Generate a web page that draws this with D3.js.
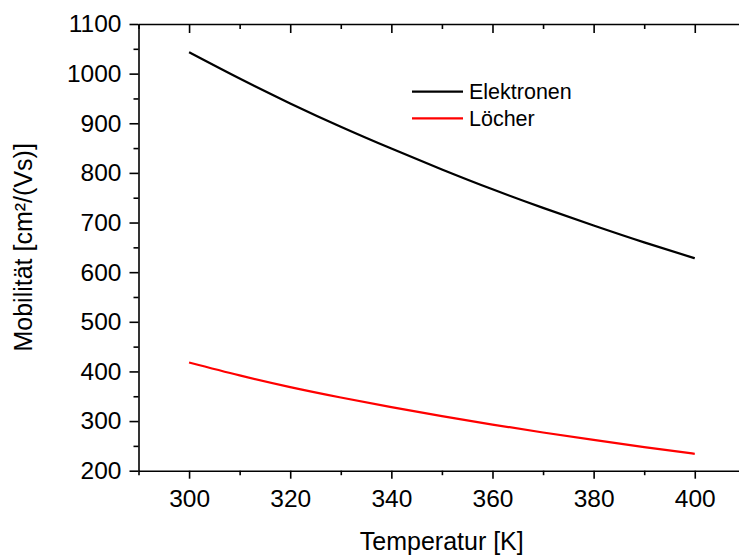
<!DOCTYPE html>
<html>
<head>
<meta charset="utf-8">
<script src="https://cdn.jsdelivr.net/npm/d3@7"></script>
<style>
  html, body { margin: 0; padding: 0; background: #fff; }
  svg { display: block; font-family: "Liberation Sans", Arial, sans-serif; }
</style>
</head>
<body>
<svg id="chart" width="739" height="556"></svg>
<script>
// ---- data ----
const temperatures = [300, 310, 320, 330, 340, 350, 360, 370, 380, 390, 400];
const electrons = [1043, 990, 940, 893, 849, 807, 767, 729.5, 694, 660, 628];
const holes = [418, 392, 368.5, 347.5, 328, 310, 293, 277, 262, 247.5, 234];
const seriesNames = ["Elektronen", "Löcher"];
const seriesColors = ["#000000", "#ff0000"];
const xMajorTicks = [300, 320, 340, 360, 380, 400];
const xMinorTicks = [290, 310, 330, 350, 370, 390, 410];
const yMajorTicks = [200, 300, 400, 500, 600, 700, 800, 900, 1000, 1100];
const yMinorTicks = [250, 350, 450, 550, 650, 750, 850, 950, 1050];
const xTitle = "Temperatur [K]";
const yTitle = "Mobilität [cm²/(Vs)]";

(function () {
// ---- layout ----
const svg = d3.select("#chart");
const mLeft = 138.5, mTop = 24, mBottom = 470.7;
const pxPerK = 5.057;
const x = d3.scaleLinear().domain([290, 410]).range([mLeft, mLeft + 120 * pxPerK]);
const y = d3.scaleLinear().domain([200, 1100]).range([mBottom, mTop]);

const fontSize = 24.5;

function styleAxis(g) {
  g.selectAll("path.domain").attr("stroke", "#000").attr("stroke-width", 1.6);
  g.selectAll(".tick line").attr("stroke", "#000").attr("stroke-width", 1.6);
  g.selectAll(".tick text").attr("fill", "#000").style("font-size", fontSize + "px")
    .style("font-family", '"Liberation Sans", Arial, sans-serif');
}

// bottom axis
const gx = svg.append("g").attr("transform", `translate(0,${mBottom})`)
  .call(d3.axisBottom(x).tickValues(xMajorTicks).tickSize(8).tickSizeOuter(0).tickPadding(10).tickFormat(d3.format("d")));
styleAxis(gx);
gx.selectAll(".tick text").attr("dy", "0").attr("y", 36);
svg.append("g").attr("transform", `translate(0,${mBottom})`)
  .call(d3.axisBottom(x).tickValues(xMinorTicks).tickSize(4.5).tickFormat(""))
  .call(g => g.select("path.domain").remove())
  .call(styleAxis);

// top axis (ticks inward)
const gt = svg.append("g").attr("transform", `translate(0,${mTop})`)
  .call(d3.axisTop(x).tickValues(xMajorTicks).tickSize(-9).tickSizeOuter(0).tickFormat(""));
styleAxis(gt);
svg.append("g").attr("transform", `translate(0,${mTop})`)
  .call(d3.axisTop(x).tickValues(xMinorTicks).tickSize(-5).tickFormat(""))
  .call(g => g.select("path.domain").remove())
  .call(styleAxis);

// left axis
const gy = svg.append("g").attr("transform", `translate(${mLeft},0)`)
  .call(d3.axisLeft(y).tickValues(yMajorTicks).tickSize(9).tickSizeOuter(0).tickPadding(8).tickFormat(d3.format("d")));
styleAxis(gy);
svg.append("g").attr("transform", `translate(${mLeft},0)`)
  .call(d3.axisLeft(y).tickValues(yMinorTicks).tickSize(5).tickFormat(""))
  .call(g => g.select("path.domain").remove())
  .call(styleAxis);

// lines
const line = d3.line().x((d, i) => x(temperatures[i])).y(d => y(d)).curve(d3.curveNatural);
[electrons, holes].forEach((s, k) => {
  svg.append("path").datum(s)
    .attr("d", line)
    .attr("fill", "none")
    .attr("stroke", seriesColors[k])
    .attr("stroke-width", 2.2);
});

// axis titles
svg.append("text")
  .attr("x", (mLeft + 745) / 2).attr("y", 550)
  .attr("text-anchor", "middle")
  .style("font-size", "25px").attr("fill", "#000")
  .text(xTitle);
svg.append("text")
  .attr("transform", `translate(32,${(mTop + mBottom) / 2}) rotate(-90)`)
  .attr("text-anchor", "middle")
  .style("font-size", "25px").attr("fill", "#000")
  .text(yTitle);

// legend
const legend = svg.append("g");
seriesNames.forEach((name, k) => {
  const ly = 91.7 + k * 26.6;
  legend.append("line")
    .attr("x1", 412).attr("x2", 463).attr("y1", ly).attr("y2", ly)
    .attr("stroke", seriesColors[k]).attr("stroke-width", 2.2);
  legend.append("text")
    .attr("x", 469).attr("y", ly + 7.5)
    .style("font-size", "21.5px").attr("fill", "#000")
    .text(name);
});
})();
</script>
</body>
</html>
